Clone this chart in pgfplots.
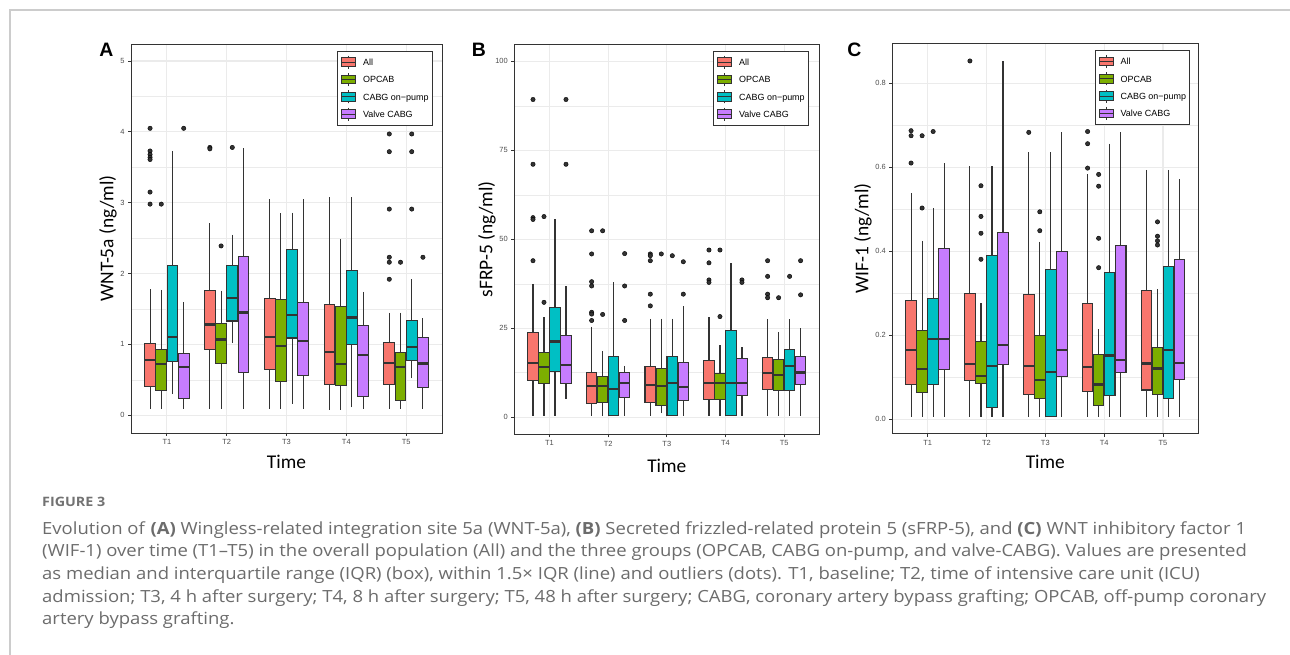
\documentclass[border=0pt]{standalone}
\usepackage{pgfplots}
\pgfplotsset{compat=1.18}
\usepgfplotslibrary{statistics}
\usepackage{fontspec}
\setmainfont{Liberation Sans}
\newfontfamily\carlito{Carlito}
\newfontfamily\capfont[FakeStretch=1.105]{Open Sans}
\definecolor{cAll}{HTML}{F8766D}
\definecolor{cOP}{HTML}{7CAE00}
\definecolor{cCB}{HTML}{00BFC4}
\definecolor{cVC}{HTML}{C77CFF}
\definecolor{c33}{HTML}{333333}
\definecolor{c4D}{HTML}{4D4D4D}
\definecolor{cgrid}{HTML}{EBEBEB}
\definecolor{ccap}{HTML}{6C6C6C}
\definecolor{cfig}{HTML}{727272}
\definecolor{cborder}{HTML}{CCCCCC}

\newcommand\lgimg[1]{%
  \draw[c33,line width=0.9bp] (7bp,-6.5bp)--(7bp,6.5bp);
  \filldraw[fill=#1,draw=c33,line width=0.9bp] (0bp,-4.3bp) rectangle (14bp,4.3bp);
  \draw[c33,line width=1.1bp] (0bp,0bp)--(14bp,0bp);}

\newcommand{\bx}[7]{\addplot[boxplot prepared={draw position=#2, lower whisker=#3, lower quartile=#4, median=#5, upper quartile=#6, upper whisker=#7}, #1] coordinates {};}

\pgfplotsset{
  bxbase/.style={draw=c33, line width=1.1bp, boxplot/draw direction=y, boxplot/box extend=0.18, boxplot/whisker extend=0,
     boxplot/every median/.style={line width=2.2bp}},
  gA/.style={bxbase, fill=cAll, legend image code/.code={\lgimg{cAll}}},
  gO/.style={bxbase, fill=cOP, legend image code/.code={\lgimg{cOP}}},
  gC/.style={bxbase, fill=cCB, legend image code/.code={\lgimg{cCB}}},
  gV/.style={bxbase, fill=cVC, legend image code/.code={\lgimg{cVC}}},
  outl/.style={only marks, mark=*, mark size=2.2bp, mark options={fill=c33, draw=none}, forget plot},
  panel/.style={scale only axis, xmin=0.4, xmax=5.6, xtick={1,2,3,4,5}, xticklabels={T1,T2,T3,T4,T5},
     tick pos=left, tick align=outside, major tick length=3bp, minor tick length=0pt,
     axis line style={draw=c33, line width=0.9bp}, tick style={draw=c33, line width=0.8bp},
     xmajorgrids, ymajorgrids, yminorgrids,
     major grid style={draw=cgrid, line width=1.2bp}, minor grid style={draw=cgrid, line width=0.6bp},
     /pgf/number format/assume math mode=true,
     ticklabel style={font=\fontsize{7.5}{8}\selectfont, text=c4D},
     xlabel={Time},
     xlabel style={font=\carlito\fontsize{19.5}{20}\selectfont, anchor=center},
     ylabel style={font=\carlito\fontsize{19.5}{20}\selectfont, anchor=center},
     legend cell align=left,
     legend style={at={(1,1)}, anchor=north east, xshift=-9.5bp, yshift=-6.7bp, draw=c33, line width=0.8bp,
        fill=white, font=\fontsize{9}{10}\selectfont, inner xsep=3.5bp, inner ysep=2.5bp, row sep=0pt,
        nodes={inner sep=0pt, text height=11.85bp, text depth=5.45bp},
        /tikz/every odd column/.append style={column sep=7bp}},
  }
}

\begin{document}
\begin{tikzpicture}[x=1bp,y=1bp]
\useasboundingbox (0,0) rectangle (1290,655);
\fill[white] (0,0) rectangle (1290,655);
\draw[cborder, line width=1.5bp] (10,0) -- (10,645) -- (1290,645);

% ---------------- Panel A ----------------
\begin{axis}[panel, at={(131bp,222bp)}, anchor=south west, width=311bp, height=389bp,
  ymin=-0.25, ymax=5.24, ytick={0,1,2,3,4,5}, yticklabels={0,1,2,3,4,5},
  minor ytick={0.5,1.5,2.5,3.5,4.5},
  ylabel={WNT-5a (ng/ml)}, ylabel style={at={(axis description cs:-0.074,0.5)}},
  xlabel style={at={(axis description cs:0.5,-0.0746)}}]
% T1
\bx{gA}{0.71875}{0.09}{0.41}{0.78}{1.01}{1.78}
\bx{gO}{0.90625}{0.09}{0.345}{0.72}{0.93}{1.77}
\bx{gC}{1.09375}{0.30}{0.76}{1.10}{2.12}{3.73}
\bx{gV}{1.28125}{0.09}{0.235}{0.68}{0.87}{1.60}
% T2
\bx{gA}{1.71875}{0.09}{0.925}{1.28}{1.76}{2.71}
\bx{gO}{1.90625}{0.09}{0.73}{1.07}{1.29}{1.76}
\bx{gC}{2.09375}{1.02}{1.33}{1.65}{2.11}{2.55}
\bx{gV}{2.28125}{0.09}{0.61}{1.45}{2.24}{3.77}
% T3
\bx{gA}{2.71875}{0.09}{0.646}{1.10}{1.646}{3.05}
\bx{gO}{2.90625}{0.09}{0.476}{0.976}{1.63}{2.85}
\bx{gC}{3.09375}{0.165}{1.09}{1.42}{2.34}{2.86}
\bx{gV}{3.28125}{0.09}{0.557}{1.05}{1.59}{3.05}
% T4
\bx{gA}{3.71875}{0.08}{0.43}{0.89}{1.566}{3.08}
\bx{gO}{3.90625}{0.08}{0.415}{0.72}{1.53}{2.49}
\bx{gC}{4.09375}{0.11}{1.00}{1.38}{2.04}{3.08}
\bx{gV}{4.28125}{0.09}{0.264}{0.85}{1.27}{1.745}
% T5
\bx{gA}{4.71875}{0.09}{0.44}{0.74}{1.03}{1.45}
\bx{gO}{4.90625}{0.09}{0.21}{0.68}{0.88}{1.45}
\bx{gC}{5.09375}{0.52}{0.774}{0.96}{1.34}{1.92}
\bx{gV}{5.28125}{0.09}{0.39}{0.73}{1.10}{1.37}
\addplot[outl] coordinates {
 (0.71875,4.05) (0.71875,3.73) (0.71875,3.68) (0.71875,3.64) (0.71875,3.61) (0.71875,3.15) (0.71875,2.98)
 (0.90625,2.98) (1.28125,4.05)
 (1.71875,3.78) (1.71875,3.76) (1.90625,2.39) (2.09375,3.78)
 (4.71875,3.97) (4.71875,3.72) (4.71875,2.91) (4.71875,2.23) (4.71875,2.16) (4.71875,1.92)
 (4.90625,2.16) (5.09375,3.97) (5.09375,3.72) (5.09375,2.91) (5.28125,2.23)};
\legend{All,OPCAB,CABG on−pump,Valve CABG}
\end{axis}

% ---------------- Panel B ----------------
\begin{axis}[panel, at={(514.3bp,220.7bp)}, anchor=south west, width=305bp, height=390.3bp,
  ymin=-4.78, ymax=104.9, ytick={0,25,50,75,100}, yticklabels={0,25,50,75,100},
  minor ytick={12.5,37.5,62.5,87.5},
  legend style={xshift=-1.2bp},
  ylabel={sFRP-5 (ng/ml)}, ylabel style={at={(axis description cs:-0.0895,0.5)}},
  xlabel style={at={(axis description cs:0.5,-0.081)}}]
\bx{gA}{0.71875}{0.5}{10.3}{15.2}{23.7}{37.5}
\bx{gO}{0.90625}{0.5}{9.55}{14.2}{18.2}{28.1}
\bx{gC}{1.09375}{0.5}{12.9}{21.3}{30.9}{55.6}
\bx{gV}{1.28125}{5.1}{9.55}{14.6}{23.1}{36.9}
\bx{gA}{1.71875}{0.5}{3.75}{8.9}{12.6}{25.5}
\bx{gO}{1.90625}{0.5}{4.1}{8.9}{11.5}{18.6}
\bx{gC}{2.09375}{0.5}{0.56}{8.0}{17.2}{37.9}
\bx{gV}{2.28125}{0.5}{5.5}{9.55}{12.7}{14.5}
\bx{gA}{2.71875}{0.5}{4.1}{9.1}{14.3}{27.7}
\bx{gO}{2.90625}{1.1}{3.4}{8.9}{13.6}{27.7}
\bx{gC}{3.09375}{0.5}{0.56}{9.7}{17.0}{27.7}
\bx{gV}{3.28125}{0.5}{4.8}{8.6}{15.4}{31.2}
\bx{gA}{3.71875}{0.5}{5.0}{9.7}{16.0}{28.1}
\bx{gO}{3.90625}{0.5}{5.0}{9.7}{12.4}{20.2}
\bx{gC}{4.09375}{0.5}{0.56}{9.7}{24.5}{43.3}
\bx{gV}{4.28125}{0.5}{6.2}{9.7}{16.6}{19.7}
\bx{gA}{4.71875}{0.5}{7.7}{12.5}{16.9}{27.6}
\bx{gO}{4.90625}{0.5}{7.5}{11.8}{16.3}{24.0}
\bx{gC}{5.09375}{0.5}{7.5}{14.4}{19.1}{27.6}
\bx{gV}{5.28125}{0.5}{9.1}{12.6}{17.1}{25.0}
\addplot[outl] coordinates {
 (0.71875,89.3) (0.71875,71.1) (0.71875,56.1) (0.71875,55.6) (0.71875,44.0)
 (0.90625,56.4) (0.90625,32.3) (1.28125,89.3) (1.28125,71.1)
 (1.71875,52.4) (1.71875,45.9) (1.71875,38.1) (1.71875,36.9) (1.71875,29.5) (1.71875,29.0) (1.71875,27.2)
 (1.90625,52.4) (1.90625,28.9) (2.28125,46.0) (2.28125,36.9) (2.28125,27.2)
 (2.71875,45.9) (2.71875,45.4) (2.71875,44.0) (2.71875,34.6) (2.71875,31.3)
 (2.90625,45.9) (3.09375,45.4) (3.28125,43.7) (3.28125,34.6)
 (3.71875,47.0) (3.71875,43.4) (3.71875,38.6) (3.71875,37.9)
 (3.90625,47.0) (3.90625,28.3) (4.28125,38.6) (4.28125,37.9)
 (4.71875,44.0) (4.71875,39.6) (4.71875,34.6) (4.71875,33.6)
 (4.90625,33.6) (5.09375,39.6) (5.28125,44.0) (5.28125,34.4)};
\legend{All,OPCAB,CABG on−pump,Valve CABG}
\end{axis}

% ---------------- Panel C ----------------
\begin{axis}[panel, at={(892.3bp,221.3bp)}, anchor=south west, width=306bp, height=390.4bp,
  ymin=-0.034, ymax=0.895, ytick={0,0.2,0.4,0.6,0.8}, yticklabels={0.0,0.2,0.4,0.6,0.8},
  minor ytick={0.1,0.3,0.5,0.7},
  legend style={xshift=1.2bp},
  ylabel={WIF-1 (ng/ml)}, ylabel style={at={(axis description cs:-0.096,0.5)}},
  xlabel style={at={(axis description cs:0.5,-0.0725)}}]
\bx{gA}{0.71875}{0.006}{0.082}{0.166}{0.282}{0.538}
\bx{gO}{0.90625}{0.006}{0.065}{0.119}{0.212}{0.425}
\bx{gC}{1.09375}{0.006}{0.082}{0.191}{0.288}{0.502}
\bx{gV}{1.28125}{0.006}{0.119}{0.191}{0.406}{0.610}
\bx{gA}{1.71875}{0.006}{0.092}{0.131}{0.299}{0.602}
\bx{gO}{1.90625}{0.006}{0.086}{0.104}{0.185}{0.276}
\bx{gC}{2.09375}{0.006}{0.028}{0.128}{0.390}{0.602}
\bx{gV}{2.28125}{0.006}{0.131}{0.177}{0.444}{0.853}
\bx{gA}{2.71875}{0.006}{0.060}{0.127}{0.297}{0.636}
\bx{gO}{2.90625}{0.006}{0.050}{0.094}{0.200}{0.423}
\bx{gC}{3.09375}{0.006}{0.007}{0.113}{0.357}{0.636}
\bx{gV}{3.28125}{0.006}{0.103}{0.165}{0.399}{0.683}
\bx{gA}{3.71875}{0.006}{0.067}{0.124}{0.276}{0.583}
\bx{gO}{3.90625}{0.006}{0.034}{0.083}{0.154}{0.214}
\bx{gC}{4.09375}{0.006}{0.056}{0.152}{0.350}{0.656}
\bx{gV}{4.28125}{0.006}{0.112}{0.142}{0.413}{0.683}
\bx{gA}{4.71875}{0.006}{0.070}{0.133}{0.306}{0.594}
\bx{gO}{4.90625}{0.006}{0.060}{0.121}{0.171}{0.310}
\bx{gC}{5.09375}{0.006}{0.049}{0.165}{0.364}{0.594}
\bx{gV}{5.28125}{0.006}{0.094}{0.134}{0.380}{0.571}
\addplot[outl] coordinates {
 (0.71875,0.687) (0.71875,0.675) (0.71875,0.610)
 (0.90625,0.675) (0.90625,0.503) (1.09375,0.685)
 (1.71875,0.853) (1.90625,0.556) (1.90625,0.483) (1.90625,0.443) (1.90625,0.381)
 (2.71875,0.683) (2.90625,0.494) (2.90625,0.449)
 (3.71875,0.685) (3.71875,0.656) (3.71875,0.598)
 (3.90625,0.583) (3.90625,0.555) (3.90625,0.431) (3.90625,0.361)
 (4.90625,0.470) (4.90625,0.436) (4.90625,0.425) (4.90625,0.415)};
\legend{All,OPCAB,CABG on−pump,Valve CABG}
\end{axis}

% panel letters
\node[font=\bfseries\fontsize{19.5}{20}\selectfont] at (106.5,604.7) {A};
\node[font=\bfseries\fontsize{19.5}{20}\selectfont] at (479,605) {B};
\node[font=\bfseries\fontsize{19.5}{20}\selectfont] at (854.5,605) {C};

% caption
\node[anchor=base west, font=\capfont\bfseries\fontsize{13}{14}\selectfont, text=cfig, inner sep=0pt] at (42,148.3) {FIGURE 3};
\begin{scope}[every node/.style={anchor=base west, inner sep=0pt, text=ccap, font=\capfont\fontsize{16.8}{18}\selectfont}]
\node at (42,120.7) {Evolution of \textbf{(A)} Wingless-related integration site 5a (WNT-5a), \textbf{(B)} Secreted frizzled-related protein 5 (sFRP-5), and \textbf{(C)} WNT inhibitory factor 1};
\node at (42,98) {(WIF-1) over time (T1–T5) in the overall population (All) and the three groups (OPCAB, CABG on-pump, and valve-CABG). Values are presented};
\node at (42,75.3) {as median and interquartile range (IQR) (box), within 1.5× IQR (line) and outliers (dots). T1, baseline; T2, time of intensive care unit (ICU)};
\node at (42,52.6) {admission; T3, 4 h after surgery; T4, 8 h after surgery; T5, 48 h after surgery; CABG, coronary artery bypass grafting; OPCAB, off-pump coronary};
\node at (42,30) {artery bypass grafting.};
\end{scope}
\end{tikzpicture}
\end{document}
